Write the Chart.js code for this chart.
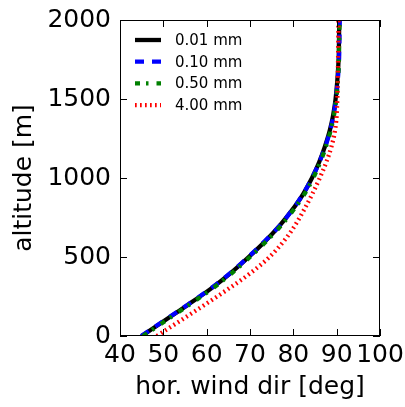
<!DOCTYPE html>
<html>
<head>
<meta charset="utf-8">
<script src="https://cdn.jsdelivr.net/npm/chart.js@4.4.1/dist/chart.umd.min.js"></script>
<style>
  html, body { margin: 0; padding: 0; background: #fff; }
  #wrap { width: 405px; height: 407px; }
</style>
</head>
<body>
<div id="wrap"><canvas id="windChart" width="405" height="407"></canvas></div>
<script>
const altitude = [0, 100, 200, 300, 400, 500, 600, 700, 800, 900, 1000, 1100, 1200, 1300, 1400, 1500, 1600, 1700, 1800, 1900, 2000]
const dir001 = [45.0, 50.4, 55.8, 61.0, 65.6, 69.7, 73.5, 76.9, 79.8, 82.3, 84.3, 85.95, 87.3, 88.4, 89.2, 89.75, 90.1, 90.35, 90.5, 90.55, 90.6]
const dir010 = [44.9, 50.3, 55.7, 60.9, 65.5, 69.6, 73.4, 76.9, 79.8, 82.3, 84.3, 86.0, 87.4, 88.5, 89.3, 89.85, 90.2, 90.45, 90.6, 90.65, 90.7]
const dir050 = [45.3, 50.7, 56.1, 61.3, 65.9, 70.0, 73.8, 77.2, 80.1, 82.6, 84.6, 86.2, 87.55, 88.6, 89.4, 89.9, 90.25, 90.45, 90.55, 90.6, 90.7]
const dir400 = [48.5, 54.1, 59.7, 65.1, 70.2, 74.5, 77.8, 80.4, 82.5, 84.4, 86.1, 87.6, 88.8, 89.6, 90.0, 90.15, 90.25, 90.3, 90.35, 90.4, 90.4]
const seriesLabels = ['0.01 mm', '0.10 mm', '0.50 mm', '4.00 mm']
const xTicks = [40, 50, 60, 70, 80, 90, 100]
const yTicks = [0, 500, 1000, 1500, 2000]

const FONT = "'DejaVu Sans', sans-serif"

function toPoints(dirs) {
    return dirs.map((d, i) => ({ x: d, y: altitude[i] }))
}

const styles = [
    { color: '#000000', dash: [], order: 3 },
    { color: '#0000ff', dash: [9, 8], order: 2 },
    { color: '#008000', dash: [5, 6, 2.5, 8], order: 1 },
    { color: '#ff0000', dash: [1.7, 3.3], order: 0 }
]
const allDirs = [dir001, dir010, dir050, dir400]

const datasets = allDirs.map((dirs, i) => ({
    label: seriesLabels[i],
    data: toPoints(dirs),
    borderColor: styles[i].color,
    backgroundColor: styles[i].color,
    borderWidth: 4.3,
    borderDash: styles[i].dash,
    borderCapStyle: 'butt',
    pointRadius: 0,
    cubicInterpolationMode: 'monotone',
    fill: false,
    order: styles[i].order
}))

// frame, inward ticks on all four sides, and the legend
const framePlugin = {
    id: 'frame',
    afterDraw(chart) {
        const ctx = chart.ctx
        const a = chart.chartArea
        const xs = chart.scales.x
        const ys = chart.scales.y
        const tl = 7
        ctx.save()
        ctx.strokeStyle = '#000'
        ctx.lineWidth = 1
        ctx.setLineDash([])
        ctx.strokeRect(a.left + 0.5, a.top + 0.5, a.right - a.left - 1, a.bottom - a.top - 1)
        ctx.beginPath()
        xTicks.forEach(v => {
            const px = Math.round(xs.getPixelForValue(v)) + 0.5
            ctx.moveTo(px, a.bottom); ctx.lineTo(px, a.bottom - tl)
            ctx.moveTo(px, a.top); ctx.lineTo(px, a.top + tl)
        })
        yTicks.forEach(v => {
            const py = Math.round(ys.getPixelForValue(v)) + 0.5
            ctx.moveTo(a.left, py); ctx.lineTo(a.left + tl, py)
            ctx.moveTo(a.right, py); ctx.lineTo(a.right - tl, py)
        })
        ctx.stroke()

        // legend
        const x0 = a.left + 15, x1 = a.left + 41
        const rowY = [40, 61.7, 83.4, 105.1]
        ctx.font = '15px ' + FONT
        ctx.textBaseline = 'middle'
        ctx.textAlign = 'left'
        chart.data.datasets.forEach((ds, i) => {
            ctx.beginPath()
            ctx.strokeStyle = ds.borderColor
            ctx.lineWidth = ds.borderWidth
            ctx.lineCap = 'butt'
            ctx.setLineDash(ds.borderDash)
            ctx.moveTo(x0, rowY[i]); ctx.lineTo(x1, rowY[i])
            ctx.stroke()
            ctx.setLineDash([])
            ctx.fillStyle = '#000'
            ctx.fillText(ds.label, a.left + 55, rowY[i] + 1)
        })
        ctx.restore()
    }
}

const ctx = document.getElementById('windChart').getContext('2d')
const myChart = new Chart(ctx, {
    type: 'line',
    data: { datasets: datasets },
    options: {
        responsive: false,
        animation: false,
        layout: { padding: { left: 0, right: 25, top: 20, bottom: 0 } },
        plugins: {
            legend: { display: false },
            tooltip: { enabled: false }
        },
        scales: {
            x: {
                type: 'linear',
                min: 40,
                max: 100,
                afterFit(scale) {
                    scale.height = 71
                    scale.paddingLeft = 0
                    scale.paddingRight = 0
                },
                afterBuildTicks(scale) { scale.ticks = xTicks.map(v => ({ value: v })) },
                grid: { display: false, drawTicks: false },
                border: { display: false },
                ticks: {
                    autoSkip: false,
                    maxRotation: 0,
                    padding: 4,
                    color: '#000',
                    font: { family: FONT, size: 25 },
                    callback: v => String(v)
                },
                title: {
                    display: true,
                    text: 'hor. wind dir [deg]',
                    color: '#000',
                    font: { family: FONT, size: 25 },
                    padding: { top: 5, bottom: 5 }
                }
            },
            y: {
                type: 'linear',
                min: 0,
                max: 2000,
                afterFit(scale) {
                    scale.width = 120
                    scale.paddingTop = 0
                    scale.paddingBottom = 0
                },
                afterBuildTicks(scale) { scale.ticks = yTicks.map(v => ({ value: v })) },
                grid: { display: false, drawTicks: false },
                border: { display: false },
                ticks: {
                    autoSkip: false,
                    padding: 9,
                    color: '#000',
                    font: { family: FONT, size: 25 },
                    callback: v => String(v)
                },
                title: {
                    display: true,
                    text: 'altitude [m]',
                    color: '#000',
                    font: { family: FONT, size: 25 },
                    padding: { top: 9, bottom: 9 }
                }
            }
        }
    },
    plugins: [framePlugin]
})
</script>
</body>
</html>
